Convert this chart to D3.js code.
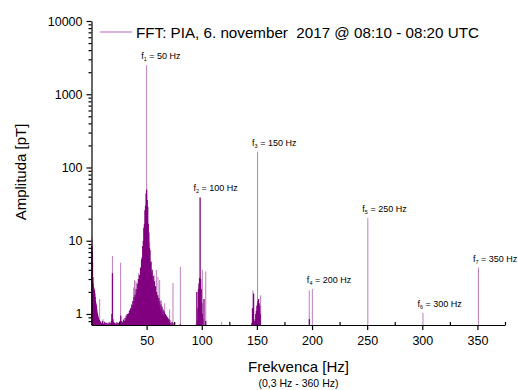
<!DOCTYPE html>
<html>
<head>
<meta charset="utf-8">
<script src="https://cdn.jsdelivr.net/npm/d3@7/dist/d3.min.js"></script>
<style>
  html, body { margin: 0; padding: 0; background: #fff; }
  svg { display: block; font-family: "Liberation Sans", Arial, sans-serif; }
</style>
</head>
<body>
<svg id="chart" width="518" height="390"></svg>
<script>
// ---- Data ----
// dense spectrum (dark purple)
const baseFreq = [0.3,0.6,0.9,1.2,1.5,1.8,2.1,2.4,2.7,3.0,3.3,3.6,3.9,4.2,4.5,4.8,5.1,5.4,5.7,6.0,6.5,7.0,7.5,8.0,9.0,10.0,11.0,12.0,13.0,14.0,15.0,16.0,17.0,18.0,18.5,19.0,19.5,20.0,21.0,22.0,23.0,24.0,25.0,26.0,26.5,27.0,28.0,29.0,30.0,30.5,31.0,31.5,32.0,32.5,33.0,33.5,34.0,34.5,35.0,35.5,36.0,36.5,37.0,37.5,38.0,38.5,39.0,39.5,40.0,40.5,41.0,41.5,42.0,42.5,43.0,43.5,44.0,44.5,45.0,45.5,46.0,46.5,47.0,47.5,48.0,48.5,49.0,49.5,50.0,50.5,51.0,51.5,52.0,52.5,53.0,53.5,54.0,54.5,55.0,55.5,56.0,56.5,57.0,57.5,58.0,58.5,59.0,59.5,60.0,60.5,61.0,61.5,62.0,62.5,63.0,63.5,64.0,64.5,65.0,65.5,66.0,66.5,67.0,67.5,68.0,68.5,69.0,69.5,70.0,70.5,71.0,72.0,73.0,74.0,80.6,95.0,95.5,96.0,96.5,97.0,97.5,98.0,98.5,99.0,99.5,100.0,100.5,101.0,102.0,103.6,145.5,146.0,147.0,148.0,148.5,149.0,149.5,150.0,150.6,151.0,151.5,152.0,152.5,153.0,197.6];
const baseAmp  = [8.5,7.0,5.0,3.2,2.6,2.3,2.2,2.0,2.1,1.9,1.7,1.5,1.4,1.35,1.25,1.15,1.05,1.0,0.95,0.9,0.86,0.83,0.8,0.78,0.76,0.8,0.74,0.78,0.75,0.76,0.74,0.77,0.75,0.8,1.0,3.6,0.85,0.78,0.76,0.74,0.77,0.75,0.76,0.8,0.95,0.8,0.78,0.84,0.8,0.88,0.83,0.95,0.86,1.0,0.9,1.02,0.95,1.12,1.0,1.2,1.1,1.35,1.2,1.5,1.3,1.7,1.45,1.85,1.7,2.2,1.95,2.6,2.1,3.0,2.6,3.4,2.9,4.3,4.0,5.6,6.0,8.5,10,15,17,26,30,44,50,36,29,17,13,8,7.5,5.0,5.2,3.6,4.0,2.9,3.3,2.5,2.8,2.0,2.4,1.8,2.0,1.55,1.8,1.4,1.65,1.3,1.5,1.15,1.35,1.1,1.25,1.0,1.15,0.95,1.08,0.9,1.0,0.86,0.95,0.82,0.9,0.8,0.86,0.77,0.82,0.75,0.78,0.74,0.73,0.72,2.0,0.8,1.2,2.2,2.6,3.1,39,3.0,2.2,1.4,1.0,0.85,1.6,0.8,0.75,1.2,1.9,0.8,0.85,1.0,1.1,1.3,1.4,1.5,1.6,1.4,1.3,1.0,0.85,0.8,1.3];
// isolated spectral lines (light purple)
const spikeFreq = [0.6,2.4,7.4,10.5,19.0,26.4,38.2,39.0,40.3,42.8,45.2,47.3,50.0,52.8,54.8,56.8,58.8,60.3,61.8,63.3,66.4,70.9,73.9,80.6,100.5,103.6,118.0,146.4,150.6,153.4,197.5,200.3,250.6,300.6,350.9];
const spikeAmp  = [11,2.3,1.6,0.85,6.2,5.0,2.3,2.9,2.8,3.6,5.5,9.0,2500,9.5,3.9,3.4,4.0,3.2,2.9,1.55,1.4,1.15,2.65,4.4,4.0,3.8,0.78,2.1,165,1.8,2.1,2.2,20.6,1.04,4.3];
// harmonic labels
const harmIndex = [1,2,3,4,5,6,7];
const harmHz    = [50,100,150,200,250,300,350];
const harmPeakF = [50,97.5,150.6,200.3,250.6,300.6,350.9];
const harmPeakA = [2500,39,165,2.2,20.6,1.04,4.3];
// axes
const xTicks = [50,100,150,200,250,300,350];
const xMinor = [25,75,125,175,225,275,325,375];
const yTicks = [1,10,100,1000,10000];
const legendText = "FFT: PIA, 6. november  2017 @ 08:10 - 08:20 UTC";
const xTitle = "Frekvenca [Hz]";
const xSubTitle = "(0,3 Hz - 360 Hz)";
const yTitle = "Amplituda [pT]";

// ---- Chart ----
const svg = d3.select("#chart");
const purple = "#800080";
const x = d3.scaleLinear().domain([0, 375]).range([91.5, 505]);
const y = d3.scaleLog().domain([0.707, 10000]).range([325, 21]);
const y0 = y.range()[0];

const yMinor = [];
[0.1,1,10,100,1000].forEach(dec => { for (let m = 2; m <= 9; m++) { const v = m*dec; if (v >= 0.707 && v <= 10000) yMinor.push(v); } });

// light spikes
svg.append("g").selectAll("line").data(spikeFreq.map((f,i)=>({f,a:spikeAmp[i]})))
  .join("line")
  .attr("x1", d=>x(d.f)).attr("x2", d=>x(d.f))
  .attr("y1", y0).attr("y2", d=>y(d.a))
  .attr("stroke", purple).attr("stroke-opacity", 0.5).attr("stroke-width", 1);

// dense spectrum
svg.append("g").selectAll("line").data(baseFreq.map((f,i)=>({f,a:baseAmp[i]})))
  .join("line")
  .attr("x1", d=>x(d.f)).attr("x2", d=>x(d.f))
  .attr("y1", y0).attr("y2", d=>y(d.a))
  .attr("stroke", purple).attr("stroke-width", 1.3);

// axes
const fontFam = '"Liberation Sans", Arial, sans-serif';
svg.append("g").attr("transform", `translate(0,${y0})`)
  .call(d3.axisBottom(x).tickValues(xTicks).tickFormat(d3.format("d")).tickSizeInner(5).tickSizeOuter(0).tickPadding(6.5));
svg.append("g").attr("transform", `translate(0,${y0})`)
  .call(d3.axisBottom(x).tickValues(xMinor).tickFormat("").tickSizeInner(-3).tickSizeOuter(0))
  .call(g=>g.select(".domain").remove());
svg.append("g").attr("transform", `translate(${x.range()[0]},0)`)
  .call(d3.axisLeft(y).tickValues(yTicks).tickFormat(d3.format("d")).tickSizeInner(5).tickSizeOuter(0).tickPadding(4));
svg.append("g").attr("transform", `translate(${x.range()[0]},0)`)
  .call(d3.axisLeft(y).tickValues(yMinor).tickFormat("").tickSizeInner(3).tickSizeOuter(0))
  .call(g=>g.select(".domain").remove());
svg.selectAll(".tick text").attr("font-family", fontFam).attr("font-size", 12.5).attr("fill", "#000");
svg.selectAll(".domain, .tick line").attr("stroke", "#000").attr("stroke-width", 1.2);

// harmonic labels
const lab = svg.append("g").selectAll("text").data(harmIndex.map((k,i)=>({k, hz:harmHz[i], f:harmPeakF[i], a:harmPeakA[i]})))
  .join("text")
  .attr("x", d=>x(d.f)-5.5).attr("y", d=>y(d.a)-6)
  .attr("font-size", 9).attr("fill", "#000");
lab.append("tspan").text("f");
lab.append("tspan").attr("font-size", 5.5).attr("dy", 2).text(d=>d.k);
lab.append("tspan").attr("dy", -2).text(d=>` = ${d.hz} Hz`);

// legend
svg.append("line").attr("x1", 100).attr("x2", 132).attr("y1", 32).attr("y2", 32)
  .attr("stroke", purple).attr("stroke-opacity", 0.5).attr("stroke-width", 1.2);
svg.append("text").attr("x", 136).attr("y", 37.5).attr("font-size", 15.2).attr("fill", "#000")
  .attr("xml:space", "preserve").style("white-space", "pre").text(legendText);

// titles
svg.append("text").attr("x", 298.5).attr("y", 372).attr("text-anchor", "middle").attr("font-size", 15).text(xTitle);
svg.append("text").attr("x", 298.5).attr("y", 387).attr("text-anchor", "middle").attr("font-size", 10.5).text(xSubTitle);
svg.append("text").attr("transform", "translate(26,172) rotate(-90)").attr("text-anchor", "middle").attr("font-size", 15).text(yTitle);
</script>
</body>
</html>
